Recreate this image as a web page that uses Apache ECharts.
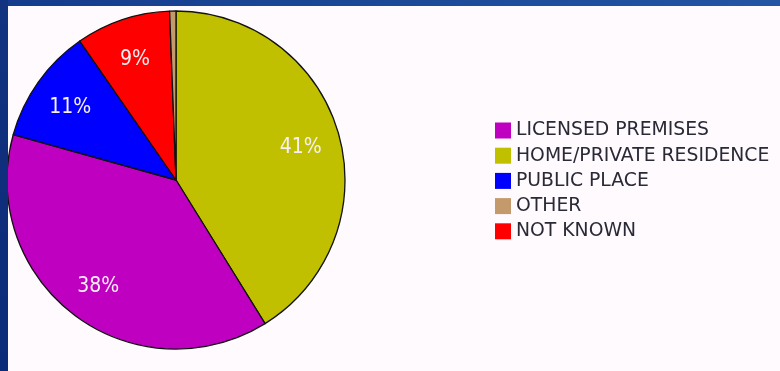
<!DOCTYPE html>
<html>
<head>
<meta charset="utf-8">
<script src="https://cdn.jsdelivr.net/npm/echarts@6/dist/echarts.min.js"></script>
<style>
  html, body { margin: 0; padding: 0; width: 780px; height: 371px; overflow: hidden; }
  body { position: relative; background: #0c2a78; }
  #topbar { position: absolute; left: 0; top: 0; width: 780px; height: 6px;
            background: linear-gradient(to right, #153c8c, #2454a4); }
  #leftbar { position: absolute; left: 0; top: 0; width: 8px; height: 371px;
             background: linear-gradient(to bottom, #12337f, #0b2a78); }
  #chart { position: absolute; left: 8px; top: 6px; width: 772px; height: 365px; background: #fefafe; }
</style>
</head>
<body>
<div id="topbar"></div>
<div id="leftbar"></div>
<div id="chart"></div>
<script>
// Slices in drawing order, clockwise from 12 o'clock
const categories = ['HOME/PRIVATE RESIDENCE', 'LICENSED PREMISES', 'PUBLIC PLACE', 'NOT KNOWN', 'OTHER'];
const shares = [41, 38, 11, 9, 0.6];
// Order of the entries in the key
const legendOrder = ['LICENSED PREMISES', 'HOME/PRIVATE RESIDENCE', 'PUBLIC PLACE', 'OTHER', 'NOT KNOWN'];

const palette = {
  'HOME/PRIVATE RESIDENCE': '#c0c000',
  'LICENSED PREMISES': '#c000c0',
  'PUBLIC PLACE': '#0000ff',
  'NOT KNOWN': '#ff0000',
  'OTHER': '#c49a6c'
};

const chart = echarts.init(document.getElementById('chart'), null, { renderer: 'canvas' });

const center = [168, 174];
const labelCenter = [168, 177];
const R = 169;

const sliceData = categories.map((name, i) => ({
  name, value: shares[i], itemStyle: { color: palette[name] }
}));

// Same slices, transparent, used only to place the percentage text further out
const labelData = categories.map((name, i) => ({
  name, value: shares[i],
  itemStyle: { color: 'rgba(0,0,0,0)', borderWidth: 0 },
  label: { show: shares[i] >= 2 }
}));

chart.setOption({
  animation: false,
  backgroundColor: '#fefafe',
  legend: {
    orient: 'vertical',
    left: 487,
    top: 115,
    padding: 0,
    icon: 'rect',
    itemWidth: 16,
    itemHeight: 16,
    itemGap: 6.2,
    selectedMode: false,
    data: legendOrder,
    itemStyle: { borderWidth: 0 },
    textStyle: {
      fontFamily: 'DejaVu Sans',
      fontSize: 18.8,
      color: '#2a2a36'
    }
  },
  series: [
    {
      type: 'pie',
      center: center,
      radius: [0, R],
      startAngle: 90,
      clockwise: true,
      silent: true,
      data: sliceData,
      label: { show: false },
      labelLine: { show: false },
      itemStyle: { borderColor: '#121212', borderWidth: 1.3 },
      emphasis: { disabled: true }
    },
    {
      type: 'pie',
      center: labelCenter,
      radius: [R / 2, R],
      startAngle: 90,
      clockwise: true,
      silent: true,
      percentPrecision: 0,
      data: labelData,
      labelLine: { show: false },
      label: {
        position: 'inside',
        formatter: '{d}%',
        color: '#f6f0f4',
        fontFamily: '"Liberation Sans Narrow", "DejaVu Sans Condensed", sans-serif',
        fontSize: 21
      },
      emphasis: { disabled: true }
    }
  ]
});
</script>
</body>
</html>
